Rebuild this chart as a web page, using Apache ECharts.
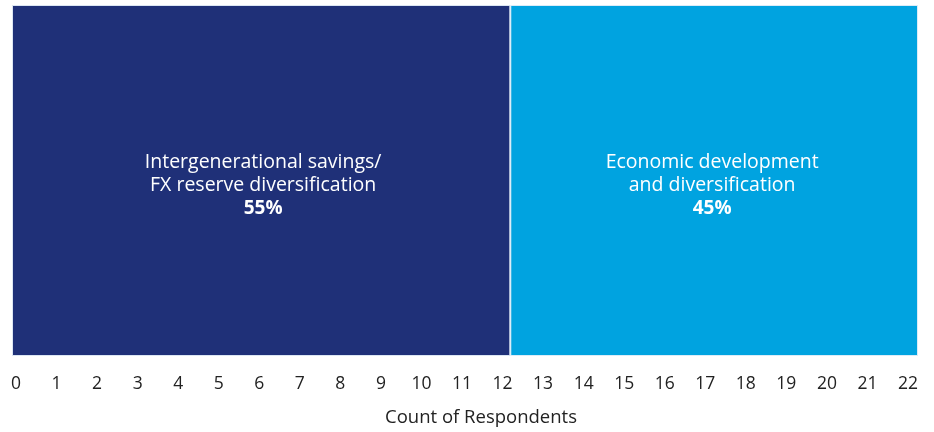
<!DOCTYPE html>
<html><head><meta charset="utf-8">
<script src="https://cdn.jsdelivr.net/npm/echarts@6/dist/echarts.min.js"></script>
<style>html,body{margin:0;padding:0;background:#fff}#c{width:934px;height:432px}</style>
</head><body><div id="c"></div>
<script>
const segmentNames = ['Intergenerational savings/\nFX reserve diversification', 'Economic development\nand diversification'];
const segmentValues = [12.1, 9.9];
const segmentPercents = ['55%', '45%'];
const segmentColors = ['#1f3078', '#00a3e0'];
const axisMin = 0, axisMax = 22, axisStep = 1;
const axisTitle = 'Count of Respondents';

const chart = echarts.init(document.getElementById('c'));
const series = segmentNames.map((n, i) => ({
  type: 'bar', stack: 'total', name: n, xAxisIndex: 0, yAxisIndex: 0,
  barWidth: '100%',
  data: [segmentValues[i]],
  itemStyle: { color: segmentColors[i], borderColor: 'rgba(230,240,250,0.9)', borderWidth: 1 },
  label: {
    show: true, position: 'inside',
    formatter: () => '{n|' + n + '}\n{p|' + segmentPercents[i] + '}',
    rich: {
      n: { color: '#fff', fontFamily: 'Open Sans', fontSize: 19.5, lineHeight: 23, align: 'center' },
      p: { color: '#fff', fontFamily: 'Open Sans', fontSize: 19, fontWeight: 'bold', lineHeight: 23, align: 'center' }
    },
    offset: [i === 0 ? 2 : -2, 5]
  }
}));
chart.setOption({
  animation: false,
  grid: [
    { left: 12, right: 16, top: 5, bottom: 76 },
    { left: 16, right: 26, top: 5, bottom: 76 }
  ],
  xAxis: [
    { gridIndex: 0, type: 'value', min: axisMin, max: axisMax, show: false },
    { gridIndex: 1, type: 'value', min: axisMin, max: axisMax, interval: axisStep,
      axisLine: { show: false }, axisTick: { show: false }, splitLine: { show: false },
      axisLabel: { color: '#222', fontFamily: 'Open Sans', fontSize: 17.5, margin: 19 },
      name: axisTitle, nameLocation: 'middle', nameGap: 52,
      nameTextStyle: { color: '#222', fontFamily: 'Open Sans', fontSize: 18.5, padding: [0, 0, 0, 38] } }
  ],
  yAxis: [
    { gridIndex: 0, type: 'category', data: [''], show: false },
    { gridIndex: 1, type: 'category', data: [''], show: false }
  ],
  series: series
});
</script></body></html>
